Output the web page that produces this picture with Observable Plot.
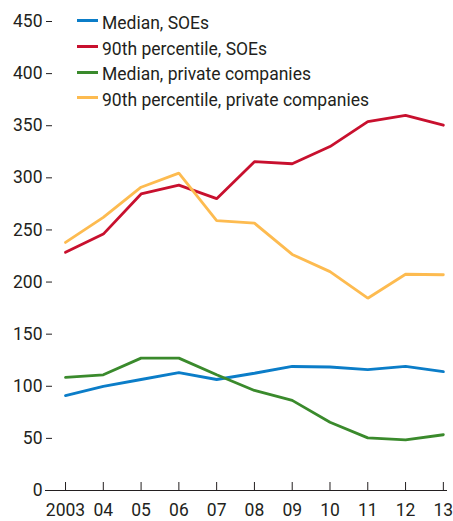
<!DOCTYPE html>
<html>
<head>
<meta charset="utf-8">
<script src="https://cdn.jsdelivr.net/npm/d3@7"></script>
<script src="https://cdn.jsdelivr.net/npm/@observablehq/plot@0.6"></script>
<style>
  html, body { margin: 0; padding: 0; background: #fff; }
  #wrap { position: relative; width: 453px; height: 521px; color: #231f20;
          font-family: Roboto, "Liberation Sans", sans-serif; }
  #legend { position: absolute; left: 77px; top: 11px; font-size: 17.5px; line-height: 25.7px; }
  .row { display: flex; align-items: center; white-space: nowrap; }
  .sw { width: 21px; height: 3px; margin-right: 4px; position: relative; top: -3px; }
</style>
</head>
<body>
<div id="wrap"><div id="legend"></div></div>
<script>
const years = [2003, 2004, 2005, 2006, 2007, 2008, 2009, 2010, 2011, 2012, 2013];
const yearLabels = ["2003", "04", "05", "06", "07", "08", "09", "10", "11", "12", "13"];
const yTicks = [0, 50, 100, 150, 200, 250, 300, 350, 400, 450];
const seriesNames = ["Median, SOEs", "90th percentile, SOEs", "Median, private companies", "90th percentile, private companies"];
const seriesColors = ["#0b7dc8", "#c8102e", "#3a8a2c", "#fdbb50"];

const medianSOE     = [91, 100, 106.5, 113, 106.5, 112.5, 119, 118.5, 116, 119, 114];
const p90SOE        = [228.5, 246, 284.5, 293, 280, 315.5, 313.5, 330, 354, 360, 350.5];
const medianPrivate = [108.5, 111, 127, 127, 111, 96, 86.5, 65.5, 50.5, 48.5, 53.5];
const p90Private    = [238, 262, 291, 304.5, 259, 256.5, 226.5, 210, 184.5, 207.5, 207];

const seriesValues = [medianSOE, p90SOE, medianPrivate, p90Private];
const table = seriesNames.flatMap((name, s) =>
  years.map((year, i) => ({series: name, year, value: seriesValues[s][i]})));

const fontSize = 17.5;
const chart = Plot.plot({
  width: 453,
  height: 521,
  marginLeft: 45,
  marginRight: 6,
  marginTop: 21,
  marginBottom: 31,
  style: {fontFamily: 'Roboto, "Liberation Sans", sans-serif', fontSize: fontSize + "px", color: "#231f20", background: "transparent"},
  x: {type: "linear", domain: [2002.47, 2013.11], label: null},
  y: {domain: [0, 450], label: null},
  color: {domain: seriesNames, range: seriesColors},
  marks: [
    Plot.axisY({ticks: yTicks, tickSize: 0, tickPadding: 3, fontSize, label: null, tickFormat: d => String(d)}),
    Plot.axisY({ticks: yTicks.filter(d => d > 0), tickSize: 6, dx: 7, text: null, label: null, strokeWidth: 1}),
    Plot.axisX({ticks: years, tickSize: 8, dy: -8, text: null, label: null, strokeWidth: 1}),
    Plot.axisX({ticks: years, tickSize: 0, tickPadding: 13, fontSize, label: null, tickFormat: (d) => yearLabels[years.indexOf(d)]}),
    Plot.ruleY([0], {stroke: "#231f20", strokeWidth: 1}),
    Plot.line(table, {x: "year", y: "value", stroke: "series", strokeWidth: 2.8, strokeLinejoin: "miter"})
  ]
});
const wrap = document.getElementById("wrap");
wrap.insertBefore(chart, wrap.firstChild);

const legend = document.getElementById("legend");
seriesNames.forEach((name, i) => {
  const row = document.createElement("div");
  row.className = "row";
  const sw = document.createElement("span");
  sw.className = "sw";
  sw.style.background = seriesColors[i];
  const label = document.createElement("span");
  label.textContent = name;
  row.appendChild(sw);
  row.appendChild(label);
  legend.appendChild(row);
});
</script>
</body>
</html>
